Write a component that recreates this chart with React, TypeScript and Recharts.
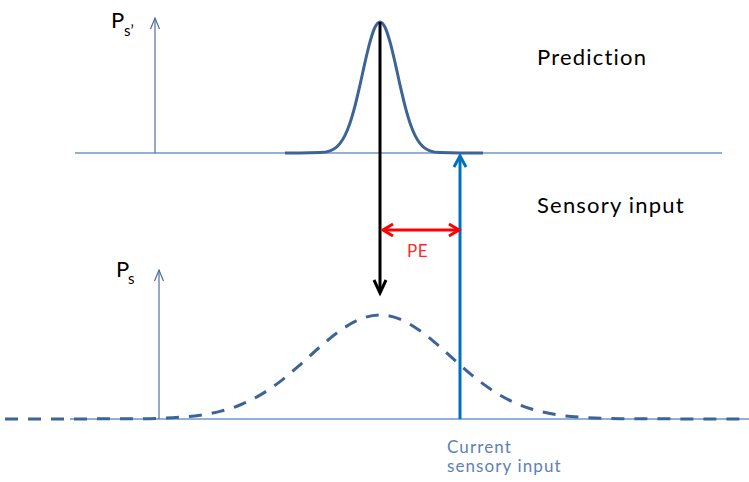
import React from "react";
import { ComposedChart, Line, XAxis, YAxis, ReferenceLine } from "recharts";

// Prediction distribution (narrow) (x position, y level)
const predX = [285, 300, 320, 330, 340, 345, 350, 355, 360, 365, 370, 375, 380, 385, 390, 395, 400, 405, 410, 415, 420, 430, 440, 460, 483];
const predY = [153, 153, 152.6, 150.8, 143.4, 135.3, 122.9, 105.8, 84.9, 62.3, 41.8, 27.2, 22, 27.2, 41.8, 62.3, 84.9, 105.8, 122.9, 135.3, 143.4, 150.8, 152.6, 153, 153];

// Sensory input distribution (wide, dashed)
const sensX = [5, 140, 180, 200, 220, 240, 260, 280, 300, 320, 340, 360, 380, 400, 420, 440, 460, 480, 500, 520, 540, 560, 580, 620, 749];
const sensY = [419, 418.7, 417.2, 415.2, 411.4, 405, 395.1, 381.6, 364.9, 346.9, 330.7, 319.2, 315, 319.2, 330.7, 346.9, 364.9, 381.6, 395.1, 405, 411.4, 415.2, 417.2, 418.7, 419];

const predData = predX.map((x, i) => ({ x, y: predY[i] }));
const sensData = sensX.map((x, i) => ({ x, y: sensY[i] }));

// Baselines, axes and arrows: [x1, y1, x2, y2]
const topBase = [75, 153, 722, 153];
const botBase = [70, 419, 749, 419];
const topAxis = [155, 153, 155, 18];
const botAxis = [159, 419, 159, 270];
const predArrow = [380, 22, 380, 293];
const inputArrow = [460, 419, 460, 156];
const peArrow = [383, 230, 459, 230];

const makeShape = (color: string, width: number, head: number, spread: number, start: boolean, end: boolean) => (p: any) => {
  const { x1, y1, x2, y2 } = p;
  const dx = x2 - x1, dy = y2 - y1;
  const len = Math.sqrt(dx * dx + dy * dy) || 1;
  const ux = dx / len, uy = dy / len;
  const nx = -uy, ny = ux;
  const chevron = (tx: number, ty: number, dirx: number, diry: number) => {
    const bx = tx - dirx * head, by = ty - diry * head;
    return `${bx + nx * spread},${by + ny * spread} ${tx},${ty} ${bx - nx * spread},${by - ny * spread}`;
  };
  return (
    <g>
      <line x1={x1} y1={y1} x2={x2} y2={y2} stroke={color} strokeWidth={width} />
      {end && head > 0 && <polyline points={chevron(x2, y2, ux, uy)} fill="none" stroke={color} strokeWidth={width} strokeLinejoin="miter" />}
      {start && head > 0 && <polyline points={chevron(x1, y1, -ux, -uy)} fill="none" stroke={color} strokeWidth={width} strokeLinejoin="miter" />}
    </g>
  );
};

const seg = (s: number[]) => [{ x: s[0], y: s[1] }, { x: s[2], y: s[3] }] as any;

const FONT = "Lato, 'Open Sans', sans-serif";
const txt: any = { fontFamily: FONT, fontVariantLigatures: "none", fontFeatureSettings: '"liga" 0, "clig" 0' };

export default function App() {
  return (
    <div style={{ position: "absolute", left: 0, top: 0, width: 749, height: 482, background: "#fff" }}>
      <ComposedChart width={749} height={482} margin={{ top: 0, right: 0, bottom: 0, left: 0 }}>
        <XAxis type="number" dataKey="x" domain={[0, 749]} hide allowDataOverflow />
        <YAxis type="number" domain={[0, 482]} reversed hide allowDataOverflow />
        <ReferenceLine segment={seg(topBase)} ifOverflow="visible" shape={makeShape("#6f96c9", 1.3, 0, 0, false, false)} />
        <ReferenceLine segment={seg(botBase)} ifOverflow="visible" shape={makeShape("#6f96c9", 1.3, 0, 0, false, false)} />
        <ReferenceLine segment={seg(topAxis)} ifOverflow="visible" shape={makeShape("#4d6d9e", 1.2, 11, 4.5, false, true)} />
        <ReferenceLine segment={seg(botAxis)} ifOverflow="visible" shape={makeShape("#4d6d9e", 1.2, 11, 4.5, false, true)} />
        <Line data={sensData} dataKey="y" type="monotone" stroke="#3c6496" strokeWidth={3} strokeDasharray="13 10" dot={false} activeDot={false} legendType="none" isAnimationActive={false} />
        <Line data={predData} dataKey="y" type="monotone" stroke="#3c6496" strokeWidth={3} dot={false} activeDot={false} legendType="none" isAnimationActive={false} />
        <ReferenceLine segment={seg(inputArrow)} ifOverflow="visible" shape={makeShape("#0070c0", 3, 11, 6, false, true)} />
        <ReferenceLine segment={seg(predArrow)} ifOverflow="visible" shape={makeShape("#000000", 3, 13, 6, false, true)} />
        <ReferenceLine segment={seg(peArrow)} ifOverflow="visible" shape={makeShape("#ff0000", 3, 10, 6, true, true)} />
        <text x={537} y={65} fontSize={22} letterSpacing={1.2} fill="#000" style={txt}>Prediction</text>
        <text x={537} y={213} fontSize={22} letterSpacing={1.2} fill="#000" style={txt}>Sensory input</text>
        <text x={407} y={257} fontSize={17} letterSpacing={0.5} fill="#ff2a2a" style={txt}>PE</text>
        <text x={447} y={453} fontSize={17} letterSpacing={1.1} fill="#5b82b8" style={txt}>Current</text>
        <text x={447} y={472} fontSize={17} letterSpacing={1.1} fill="#5b82b8" style={txt}>sensory input</text>
        <text x={111} y={28} fontSize={22} fill="#000" style={txt}>P</text>
        <text x={124} y={36} fontSize={15} fill="#000" style={txt}>s’</text>
        <text x={116} y={277} fontSize={22} fill="#000" style={txt}>P</text>
        <text x={128} y={284} fontSize={15} fill="#000" style={txt}>s</text>
      </ComposedChart>
    </div>
  );
}
